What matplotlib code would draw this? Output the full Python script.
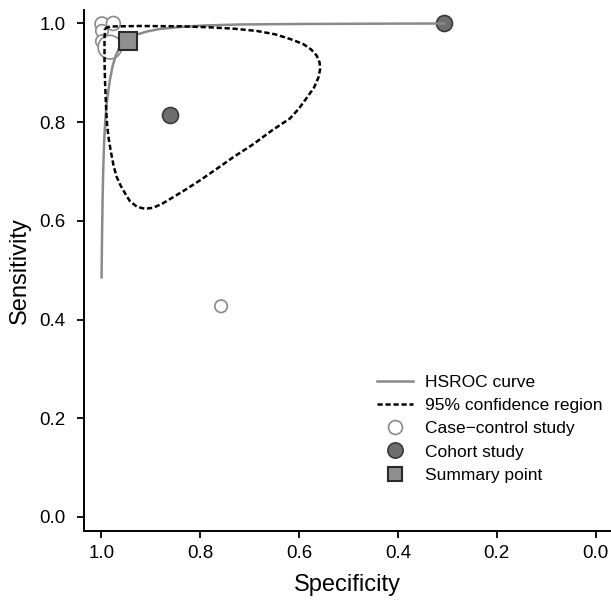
import matplotlib
matplotlib.use("Agg")
import matplotlib.pyplot as plt
from matplotlib.lines import Line2D

plt.rcParams['font.family'] = ['Liberation Sans', 'DejaVu Sans']

# ---- data ----
# HSROC curve (specificity, sensitivity)
hsroc_spec = [0.9998, 0.9990, 0.9978, 0.9964, 0.9945, 0.9923, 0.9899, 0.9868,
              0.9828, 0.9777, 0.9717, 0.9646, 0.9565, 0.9457, 0.9281, 0.9079,
              0.8816, 0.8411, 0.7905, 0.7196, 0.5982, 0.4362, 0.3067]
hsroc_sens = [0.4858, 0.5607, 0.6417, 0.7065, 0.7632, 0.8036, 0.8340, 0.8583,
              0.8866, 0.9130, 0.9332, 0.9494, 0.9595, 0.9666, 0.9777, 0.9838,
              0.9889, 0.9929, 0.9960, 0.9980, 0.9990, 0.9996, 1.0000]

# 95% confidence region outline
conf_spec = [0.9929, 0.9828, 0.9221, 0.8411, 0.7864, 0.7298, 0.6852, 0.6488,
             0.6184, 0.5921, 0.5759, 0.5648, 0.5587, 0.5577, 0.5607, 0.5698,
             0.5840, 0.6002, 0.6184, 0.6549, 0.6933, 0.7338, 0.7682, 0.8006,
             0.8289, 0.8553, 0.8775, 0.8957, 0.9119, 0.9281, 0.9423, 0.9524,
             0.9626, 0.9697, 0.9757, 0.9808, 0.9858, 0.9889, 0.9909, 0.9929,
             0.9939, 0.9939, 0.9929]
conf_sens = [0.9899, 0.9939, 0.9949, 0.9943, 0.9925, 0.9893, 0.9848, 0.9781,
             0.9686, 0.9585, 0.9474, 0.9352, 0.9211, 0.9069, 0.8913, 0.8704,
             0.8502, 0.8279, 0.8077, 0.7834, 0.7551, 0.7287, 0.7045, 0.6822,
             0.6640, 0.6478, 0.6346, 0.6265, 0.6245, 0.6285, 0.6397, 0.6559,
             0.6741, 0.6903, 0.7126, 0.7389, 0.7692, 0.7976, 0.8340, 0.8846,
             0.9251, 0.9656, 0.9899]

# Case-control studies
cc_spec = [0.999, 0.976, 0.999, 0.999, 0.983, 0.758]
cc_sens = [0.999, 1.000, 0.985, 0.964, 0.952, 0.427]
cc_weight = [1.0, 1.0, 0.9, 0.9, 1.7, 0.9]

# Cohort studies
co_spec = [0.861, 0.307]
co_sens = [0.814, 1.000]

# Summary point
sum_spec = [0.946]
sum_sens = [0.965]

x_ticks = [1.0, 0.8, 0.6, 0.4, 0.2, 0.0]
y_ticks = [0.0, 0.2, 0.4, 0.6, 0.8, 1.0]
legend_labels = ["HSROC curve", "95% confidence region", "Case\u2212control study",
                 "Cohort study", "Summary point"]

# ---- figure ----
W, H = 611, 603
fig = plt.figure(figsize=(W / 100, H / 100), dpi=100)
ax = fig.add_axes([83.5 / W, 1 - 531 / H, (W - 83.5) / W, (531 - 10.5) / H])

ax.set_xlim(1.0364, -0.031)
ax.set_ylim(-0.0284, 1.0263)

base_ms = 10.0
ax.scatter(cc_spec, cc_sens, s=[(base_ms * w) ** 2 for w in cc_weight],
           facecolors='white', edgecolors='#8a8a8a', linewidths=1.2, zorder=2)
ax.plot(co_spec, co_sens, linestyle='none', marker='o', markersize=11.5,
        markerfacecolor='#6e6e6e', markeredgecolor='#3a3a3a', markeredgewidth=1.2,
        zorder=2)
ax.plot(hsroc_spec, hsroc_sens, color='#8a8a8a', lw=1.8, zorder=3)
ax.plot(conf_spec, conf_sens, color='black', lw=1.8, linestyle=(0, (2.1, 1.1)),
        zorder=3)
ax.plot(sum_spec, sum_sens, linestyle='none', marker='s', markersize=13,
        markerfacecolor='#8f8f8f', markeredgecolor='#2a2a2a', markeredgewidth=1.5,
        zorder=4)

for s in ['top', 'right']:
    ax.spines[s].set_visible(False)
for s in ['left', 'bottom']:
    ax.spines[s].set_linewidth(1.4)

ax.set_xticks(x_ticks)
ax.set_xticklabels([f"{v:.1f}" for v in x_ticks])
ax.set_yticks(y_ticks)
ax.set_yticklabels([f"{v:.1f}" for v in y_ticks])
ax.tick_params(axis='both', direction='out', length=5, width=1.3, labelsize=13.5,
               colors='black')
ax.tick_params(axis='x', pad=5)
ax.tick_params(axis='y', pad=8)

ax.set_xlabel("Specificity", fontsize=17, labelpad=9)
ax.set_ylabel("Sensitivity", fontsize=17, labelpad=6)

handles = [
    Line2D([], [], color='#8a8a8a', lw=1.8),
    Line2D([], [], color='black', lw=1.8, linestyle=(0, (2.1, 1.1))),
    Line2D([], [], linestyle='none', marker='o', markersize=10,
           markerfacecolor='white', markeredgecolor='#8a8a8a', markeredgewidth=1.2),
    Line2D([], [], linestyle='none', marker='o', markersize=11,
           markerfacecolor='#6e6e6e', markeredgecolor='#3a3a3a', markeredgewidth=1.2),
    Line2D([], [], linestyle='none', marker='s', markersize=10,
           markerfacecolor='#8f8f8f', markeredgecolor='#2a2a2a', markeredgewidth=1.5),
]
ax.legend(handles, legend_labels, loc='upper left', frameon=False,
          bbox_to_anchor=(377 / W, 1 - 375 / H), bbox_transform=fig.transFigure,
          fontsize=12.5, handlelength=2.1, handletextpad=0.65, labelspacing=0.46,
          borderpad=0, borderaxespad=0)

fig.savefig("out.png", dpi=100)
